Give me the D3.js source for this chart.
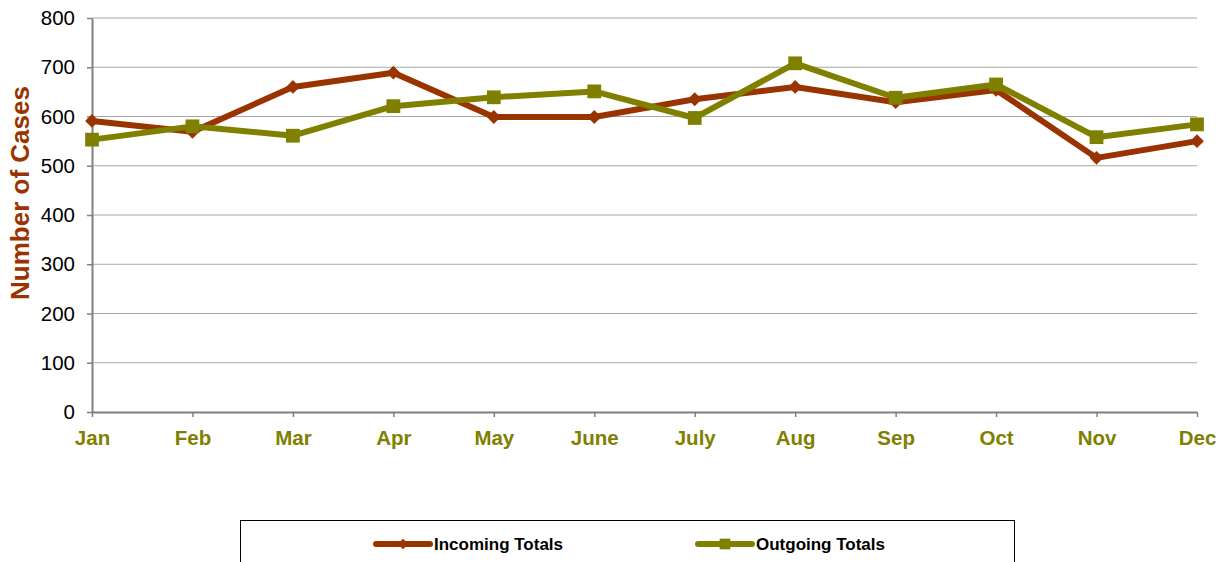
<!DOCTYPE html>
<html>
<head>
<meta charset="utf-8">
<script src="https://cdn.jsdelivr.net/npm/d3@7"></script>
<style>
  body { margin: 0; background: #fff; }
  svg { display: block; font-family: 'Liberation Sans', Arial, sans-serif; }
</style>
</head>
<body>
<div id="chart"></div>
<script>
let months = ['Jan', 'Feb', 'Mar', 'Apr', 'May', 'June', 'July', 'Aug', 'Sep', 'Oct', 'Nov', 'Dec']
let incoming = [591, 569, 660, 689, 599, 599, 635, 660, 629, 654, 516, 550]
let outgoing = [553, 580, 561, 621, 639, 651, 597, 708, 638, 665, 558, 584]
let yTicks = [0, 100, 200, 300, 400, 500, 600, 700, 800]

let width = 1223
let height = 562
let margin = { top: 18, left: 92, right: 26, bottom: 150 }

let svg = d3.select('#chart')
  .append('svg')
  .attr('width', width)
  .attr('height', height)

let xScale = d3.scalePoint()
  .domain(months)
  .range([margin.left, width - margin.right])

let yScale = d3.scaleLinear()
  .domain([0, 800])
  .range([height - margin.bottom, margin.top])

// gridlines
svg.append('g')
  .selectAll('line')
  .data(yTicks.slice(1))
  .enter()
  .append('line')
  .attr('x1', margin.left)
  .attr('x2', width - margin.right)
  .attr('y1', d => yScale(d))
  .attr('y2', d => yScale(d))
  .attr('stroke', '#a6a6a6')
  .attr('stroke-width', 1)

// y axis
let yAxis = svg.append('g')
  .attr('transform', `translate(${margin.left},0)`)
  .call(d3.axisLeft(yScale).tickValues(yTicks).tickSize(5).tickSizeOuter(0))
yAxis.select('.domain').attr('stroke', '#808080').attr('stroke-width', 2)
yAxis.selectAll('.tick line').attr('stroke', '#808080').attr('stroke-width', 1.5)
yAxis.selectAll('.tick text')
  .attr('x', -17)
  .attr('font-size', 20.5)
  .attr('font-family', "'Liberation Sans', Arial, sans-serif")
  .attr('fill', '#000')

// x axis
let xAxis = svg.append('g')
  .attr('transform', `translate(0,${yScale(0)})`)
  .call(d3.axisBottom(xScale).tickSize(5).tickSizeOuter(0))
xAxis.select('.domain').attr('stroke', '#808080').attr('stroke-width', 2)
xAxis.selectAll('.tick line').attr('stroke', '#808080').attr('stroke-width', 1.5)
xAxis.selectAll('.tick text')
  .attr('y', 18)
  .attr('font-size', 20.5)
  .attr('font-weight', 'bold')
  .attr('font-family', "'Liberation Sans', Arial, sans-serif")
  .attr('fill', '#808000')

// y axis title
svg.append('text')
  .attr('transform', `translate(29,${(yScale(0) + yScale(800)) / 2 - 22}) rotate(-90)`)
  .attr('text-anchor', 'middle')
  .attr('font-size', 26)
  .attr('font-weight', 'bold')
  .attr('fill', '#993300')
  .text('Number of Cases')

let series = [
  { name: 'Incoming Totals', values: incoming, color: '#993300', shape: d3.symbolSquare, size: 95, rotate: 45 },
  { name: 'Outgoing Totals', values: outgoing, color: '#808000', shape: d3.symbolSquare, size: 190, rotate: 0 }
]

let line = d3.line()
  .x((d, i) => xScale(months[i]))
  .y(d => yScale(d))

series.forEach(s => {
  let g = svg.append('g')
  g.append('path')
    .datum(s.values)
    .attr('d', line)
    .attr('fill', 'none')
    .attr('stroke', s.color)
    .attr('stroke-width', 6)
    .attr('stroke-linejoin', 'round')

  g.selectAll('.marker')
    .data(s.values)
    .enter()
    .append('path')
    .attr('d', d3.symbol().type(s.shape).size(s.size))
    .attr('transform', (d, i) => `translate(${xScale(months[i])},${yScale(d)}) rotate(${s.rotate})`)
    .attr('fill', s.color)
})

// legend
let legend = svg.append('g')
legend.append('rect')
  .attr('x', 240.5)
  .attr('y', 520.5)
  .attr('width', 774)
  .attr('height', 60)
  .attr('fill', '#fff')
  .attr('stroke', '#000')
  .attr('stroke-width', 1)

let legendX = [376, 698]
series.forEach((s, i) => {
  let lg = legend.append('g').attr('transform', `translate(${legendX[i]},544)`)
  lg.append('line')
    .attr('x1', 0)
    .attr('x2', 54)
    .attr('stroke', s.color)
    .attr('stroke-width', 6)
    .attr('stroke-linecap', 'round')
  lg.append('path')
    .attr('d', d3.symbol().type(s.shape).size(s.size * 0.6))
    .attr('transform', `translate(27,0) rotate(${s.rotate})`)
    .attr('fill', s.color)
  lg.append('text')
    .attr('x', 58)
    .attr('y', 6)
    .attr('font-size', 16)
    .attr('font-weight', 'bold')
    .attr('textLength', 129)
    .attr('lengthAdjust', 'spacingAndGlyphs')
    .attr('fill', '#000')
    .text(s.name)
})
</script>
</body>
</html>
